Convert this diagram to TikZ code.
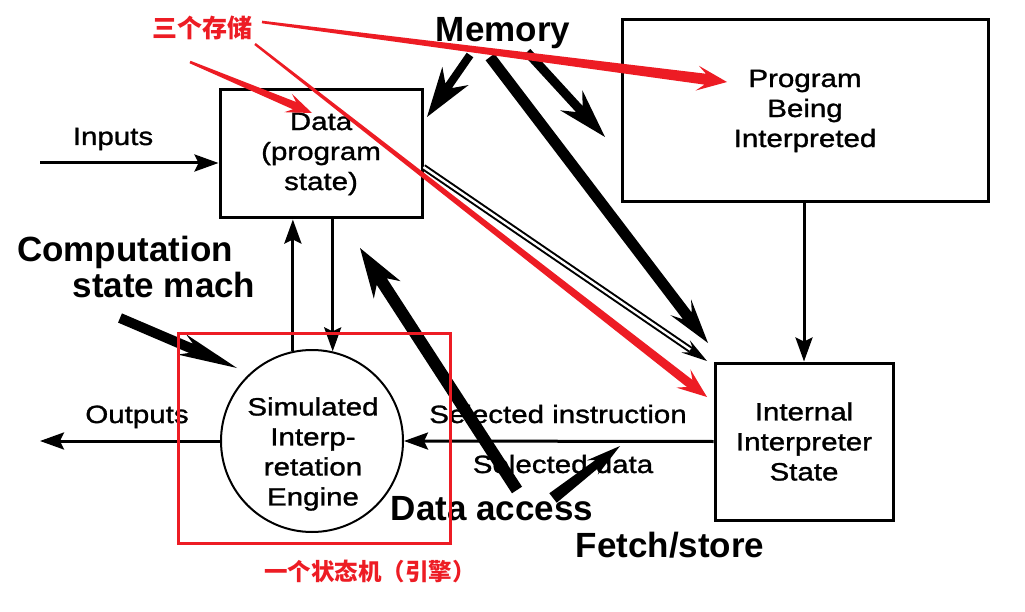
\documentclass[tikz,border=0pt]{standalone}
\usepackage{fontspec}
\setmainfont{Liberation Sans}
\newfontfamily\smf[FakeStretch=1.18,FakeBold=1.2]{Liberation Sans}
\newfontfamily\cjkf{Noto Sans CJK SC}
\usetikzlibrary{arrows.meta,calc}
\definecolor{markred}{RGB}{237,28,36}
% #1 fill style, #2 start, #3 tip, #4 tail half width, #5 shaft half width,
% #6 head length, #7 join length, #8 head half width
\newcommand\wedgearrow[8]{%
  \coordinate (wS) at (#2);
  \coordinate (wT) at (#3);
  \coordinate (wH) at ($(wT)!#6!(wS)$);
  \coordinate (wJ) at ($(wT)!#7!(wS)$);
  \fill[#1] ($(wS)!#4!90:(wT)$) -- ($(wJ)!#5!90:(wT)$) -- ($(wH)!#8!90:(wT)$)
    -- (wT) -- ($(wH)!#8!-90:(wT)$) -- ($(wJ)!#5!-90:(wT)$)
    -- ($(wS)!#4!-90:(wT)$) -- cycle;}
\begin{document}
\begin{tikzpicture}[x=1pt,y=-1pt,
  box/.style={draw, line width=3pt, inner sep=0pt, align=center,
    font=\smf\fontsize{25}{30}\selectfont},
  txt/.style={font=\smf\fontsize{25}{30}\selectfont, anchor=base, inner sep=0pt, align=center},
  big/.style={font=\bfseries\fontsize{35}{40}\selectfont, anchor=base, inner sep=0pt},
  ann/.style={font=\cjkf\bfseries\fontsize{25}{30}\selectfont, text=markred, anchor=base, inner sep=0pt},
  arr/.style={line width=3pt, -{Stealth[length=24pt,width=17pt,inset=4pt]}}]
\fill[white] (0,0) rectangle (1025,612);
\useasboundingbox (0,0) rectangle (1025,612);

% boxes
\node[box, minimum width=202pt, minimum height=128pt] (data) at (321,154) {Data\\(program\\state)};
\node[box, minimum width=366pt, minimum height=182pt] (prog) at (805,111) {Program\\Being\\Interpreted};
\node[box, minimum width=178pt, minimum height=157pt] (intl) at (804,441.5) {Internal\\Interpreter\\State};
\node[draw, circle, line width=2pt, minimum size=182pt, inner sep=0pt] (eng) at (312,441) {};
\node[txt, anchor=center] (engtxt) at (313,454) {Simulated\\Interp-\\retation\\Engine};

% free ends
\coordinate (inL) at (40,163);
\coordinate (outL) at (40,441);

% thin arrows
\draw[arr] (inL) -- (data.west |- inL);
\draw[arr] (eng.west) -- (outL);
\draw[arr] (intl.west) -- (eng.east);
\draw[arr] (data.south -| eng.77) -- (eng.77);
\draw[arr] (eng.102) -- (data.south -| eng.102);
\draw[arr] (prog.south -| intl.north) -- (intl.north);

% double arrow data -> internal state
\coordinate (dS) at ($(data.north east)!0.6!(data.south east)$);
\coordinate (dT) at (707,361);
\coordinate (dJ) at ($(dT)!20pt!(dS)$);
\draw[double, line width=2pt, double distance=2.4pt] (dS) -- (dJ);
\wedgearrow{black}{dJ}{dT}{3.2pt}{3.2pt}{26pt}{20pt}{7.5pt}

% labels
\node[txt] (lin) at (113,145) {Inputs};
\node[txt] (lout) at (137,423) {Outputs};
\node[txt] (lsi) at (558,423) {Selected instruction};
\node[txt] (lsd) at (563,473) {Selected data};
\node[big] (lmem) at (503,42) {Memory};
\node[big] (lcomp) at (125,262) {Computation};
\node[big] (lsm) at (164,298) {state mach};
\node[big] (lda) at (492,520) {Data access};
\node[big] (lfs) at (670,557) {Fetch/store};

% heavy arrows
\coordinate (m1S) at (470,55);  \coordinate (m1T) at (427,117);
\coordinate (m2S) at (490,57);  \coordinate (m2T) at (708,343);
\coordinate (m3S) at (527,52);  \coordinate (m3T) at (605,137);
\coordinate (daS) at (517,490); \coordinate (daT) at (360,248);
\coordinate (csS) at (120,318); \coordinate (csT) at (237,368);
\coordinate (fsS) at (553,498); \coordinate (fsT) at (620,446);
\wedgearrow{black}{m1S}{m1T}{4pt}{4pt}{50pt}{38pt}{16pt}
\wedgearrow{black}{m2S}{m2T}{5.5pt}{5.5pt}{45pt}{34pt}{13pt}
\wedgearrow{black}{m3S}{m3T}{4.5pt}{4.5pt}{50pt}{38pt}{15pt}
\wedgearrow{black}{daS}{daT}{6pt}{6pt}{50pt}{40pt}{16pt}
\wedgearrow{black}{csS}{csT}{5pt}{5pt}{60pt}{50pt}{11pt}
\wedgearrow{black}{fsS}{fsT}{6pt}{4pt}{35pt}{28pt}{9pt}

% red annotations
\draw[markred, line width=3pt] (178,333) rectangle (450,543);
\node[ann] (a1) at (202,38) {三个存储};
\node[ann, font=\cjkf\bfseries\fontsize{23.5}{28}\selectfont] (a2) at (370,580) {一个状态机（引擎）};
\coordinate (r1S) at (262,22);  \coordinate (r1T) at (727,82);
\coordinate (r2S) at (190,62);  \coordinate (r2T) at (312,113);
\coordinate (r3S) at (255,44);  \coordinate (r3T) at (707,397);
\wedgearrow{markred}{r1S}{r1T}{1.3pt}{5.5pt}{30pt}{22pt}{12.5pt}
\wedgearrow{markred}{r2S}{r2T}{1.3pt}{4pt}{26pt}{19pt}{10pt}
\wedgearrow{markred}{r3S}{r3T}{1.2pt}{4.5pt}{30pt}{22pt}{11.5pt}
\end{tikzpicture}
\end{document}
